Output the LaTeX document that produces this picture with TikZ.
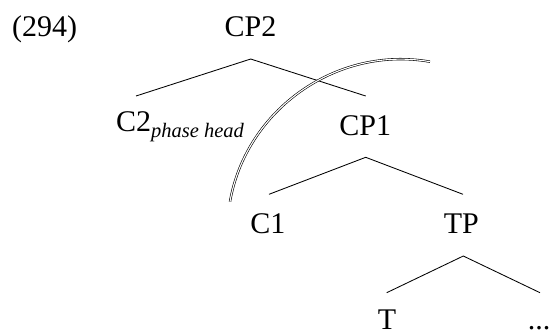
\documentclass[tikz,border=0pt]{standalone}
\usepackage{fontspec}
\setmainfont{Liberation Serif}
\newcommand{\subfont}{\fontsize{20.5}{24}\selectfont\itshape}
\begin{document}
\begin{tikzpicture}[x=1pt,y=-1pt,
  lbl/.style={font=\fontsize{30}{35}\selectfont, inner sep=0pt, anchor=base},
  branch/.style={line width=0.85pt},
  phase/.style={line width=0.6pt, double, double distance=1.1pt}]
\useasboundingbox (0,0) rectangle (551,333);

% example number
\node[lbl, anchor=base west] (ex) at (12,36) {(294)};

% tree nodes
\node[lbl] (CP2) at (250.5,36) {CP2};
\node[lbl, anchor=base west] (C2) at (116,131) {C2\raisebox{-6pt}{\subfont phase head}};
\node[lbl] (CP1) at (365.3,135) {CP1};
\node[lbl] (C1) at (267.8,233) {C1};
\node[lbl] (TP) at (461.3,233) {TP};
\node[lbl] (T) at (387,329) {T};
\node[lbl] (dots) at (539,329) {...};

% branch points
\coordinate (CP2-d) at (250.7,59);
\coordinate (C2-u) at (136,96);
\coordinate (CP1-u) at (365.7,96);
\coordinate (CP1-d) at (365.7,157.3);
\coordinate (C1-u) at (269,194.3);
\coordinate (TP-u) at (463,194.3);
\coordinate (TP-d) at (463.3,256);
\coordinate (T-u) at (386.7,292.7);
\coordinate (dots-u) at (540,292.7);

\draw[branch] (C2-u) -- (CP2-d) -- (CP1-u);
\draw[branch] (C1-u) -- (CP1-d) -- (TP-u);
\draw[branch] (T-u) -- (TP-d) -- (dots-u);

% phase boundary
\coordinate (ph-a) at (230,201.7);
\coordinate (ph-b) at (430,61.7);
\draw[phase] (ph-a) .. controls (246,110) and (336.4,45.2) .. (ph-b);
\end{tikzpicture}
\end{document}
